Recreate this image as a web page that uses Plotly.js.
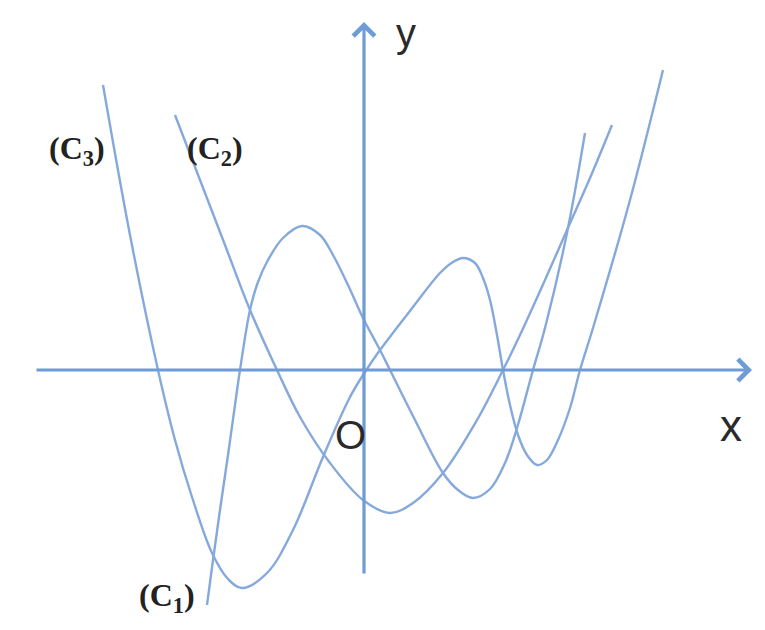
<!DOCTYPE html>
<html>
<head>
<meta charset="utf-8">
<script src="https://cdn.plot.ly/plotly-3.0.1.min.js"></script>
<style>html,body{margin:0;padding:0;background:#fff;}#chart{width:765px;height:630px;}</style>
</head>
<body>
<div id="chart"></div>
<script>
// Curve (C1): cubic-like graph
const c1X = [-3.14,-3.02,-2.88,-2.72,-2.58,-2.48,-2.28,-2.12,-1.92,-1.62,-1.24,-0.88,-0.62,-0.32,-0.02,0.32,0.52,1.02,1.58,1.88,2.18,2.52,2.82,3.06,3.38,3.62,4.06,4.42];
const c1Y = [-4.70,-3.80,-2.80,-1.70,-0.70,0.00,1.20,1.76,2.20,2.64,2.88,2.70,2.30,1.70,1.04,0.40,0.00,-1.00,-2.06,-2.40,-2.56,-2.38,-1.86,-1.16,0.00,0.84,2.74,4.74];
// Curve (C2): parabola-like graph
const c2X = [-3.78,-3.28,-2.78,-2.28,-1.74,-1.28,-0.68,-0.02,0.52,0.98,1.58,2.26,2.78,3.12,3.62,4.06,4.52,4.96];
const c2Y = [5.10,3.80,2.50,1.20,0.00,-0.94,-1.86,-2.60,-2.86,-2.66,-2.06,-1.00,0.00,0.70,1.80,2.80,3.84,4.90];
// Curve (C3): quartic-like graph
const c3X = [-5.22,-4.68,-4.12,-3.78,-3.44,-3.04,-2.72,-2.44,-1.94,-1.42,-0.82,-0.28,0.02,0.32,0.98,1.52,1.78,1.98,2.22,2.38,2.52,2.66,2.78,2.92,3.08,3.26,3.46,3.66,3.88,4.12,4.32,4.58,5.32,5.98];
const c3Y = [5.70,2.70,0.00,-1.40,-2.54,-3.66,-4.18,-4.36,-4.06,-3.20,-1.74,-0.54,-0.04,0.40,1.26,1.94,2.16,2.24,2.14,1.84,1.40,0.70,0.00,-0.70,-1.30,-1.70,-1.90,-1.80,-1.40,-0.76,0.00,0.84,3.40,6.00];

// Axes extents (tail, head)
const xAxisFrom = -6.58, xAxisTo = 7.76;
const yAxisFrom = -4.10, yAxisTo = 6.96;

// Text labels
const curveLabels = ['(C<sub>3</sub>)', '(C<sub>2</sub>)', '(C<sub>1</sub>)'];
const curveLabelX = [-5.74, -2.98, -3.94];
const curveLabelY = [4.40, 4.40, -4.54];
const axisLabels = ['x', 'y', 'O'];
const axisLabelX = [7.34, 0.84, -0.28];
const axisLabelY = [-1.10, 6.74, -1.30];

const curveColor = '#86a9dc';
const axisColor = '#6f9bd6';

function curve(x, y) {
  return {x: x, y: y, type: 'scatter', mode: 'lines',
          line: {color: curveColor, width: 2.4, shape: 'spline', smoothing: 1.0},
          hoverinfo: 'skip'};
}

const data = [curve(c1X, c1Y), curve(c2X, c2Y), curve(c3X, c3Y)];

const annotations = [];
annotations.push({x: xAxisTo, y: 0, ax: xAxisFrom, ay: 0, xref: 'x', yref: 'y', axref: 'x', ayref: 'y',
  text: '', showarrow: true, arrowhead: 4, arrowsize: 1.3, arrowwidth: 3.2, arrowcolor: axisColor, standoff: 0});
annotations.push({x: 0, y: yAxisTo, ax: 0, ay: yAxisFrom, xref: 'x', yref: 'y', axref: 'x', ayref: 'y',
  text: '', showarrow: true, arrowhead: 4, arrowsize: 1.3, arrowwidth: 3.2, arrowcolor: axisColor, standoff: 0});
for (let i = 0; i < curveLabels.length; i++) {
  annotations.push({x: curveLabelX[i], y: curveLabelY[i], xref: 'x', yref: 'y', text: '<b>' + curveLabels[i] + '</b>',
    showarrow: false, xanchor: 'center', yanchor: 'middle',
    font: {family: 'Liberation Serif, serif', size: 32, color: '#222'}});
}
const axisSizes = [44, 40, 40];
for (let i = 0; i < axisLabels.length; i++) {
  annotations.push({x: axisLabelX[i], y: axisLabelY[i], xref: 'x', yref: 'y', text: axisLabels[i],
    showarrow: false, xanchor: 'center', yanchor: 'middle',
    font: {family: 'Liberation Sans, sans-serif', size: axisSizes[i], color: '#2a2a2a'}});
}

const layout = {
  width: 765, height: 630,
  margin: {l: 0, r: 0, t: 0, b: 0, pad: 0},
  paper_bgcolor: '#ffffff', plot_bgcolor: '#ffffff',
  showlegend: false,
  xaxis: {range: [-7.28, 8.02], visible: false, showgrid: false, zeroline: false, fixedrange: true},
  yaxis: {range: [-5.2, 7.4], visible: false, showgrid: false, zeroline: false, fixedrange: true},
  annotations: annotations
};

Plotly.newPlot('chart', data, layout, {staticPlot: true, displayModeBar: false});
</script>
</body>
</html>
